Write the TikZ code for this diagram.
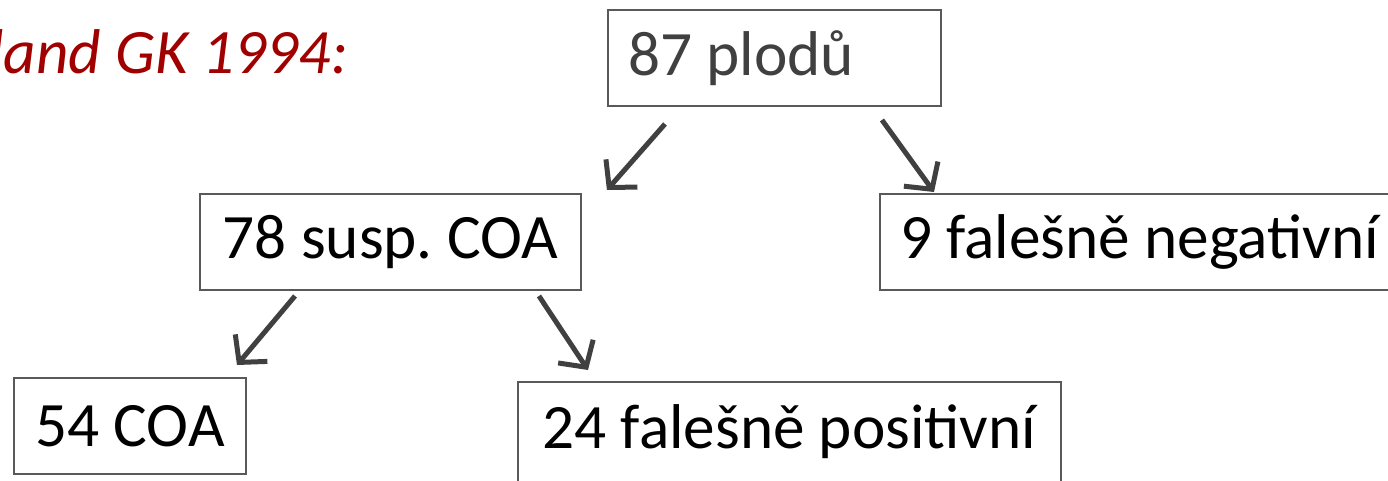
\documentclass[tikz,border=0pt]{standalone}
\usepackage{fontspec}
\setmainfont{Carlito}
\usetikzlibrary{positioning,calc,arrows.meta}

\definecolor{titlered}{RGB}{160,0,0}
\definecolor{darkgray}{RGB}{64,64,64}
\definecolor{framegray}{RGB}{89,89,89}

\begin{document}
\frenchspacing
\begin{tikzpicture}[
      x=0.02cm, y=-0.02cm,
      box/.style={rectangle, draw=framegray, line width=0.04cm, anchor=north west, inner xsep=0.4cm, inner ysep=0pt, minimum height=1.92cm, font=\fontsize{36}{43}\selectfont},
      arr/.style={draw=darkgray, line width=0.1cm, -{Straight Barb[length=0.38cm, width=0.84cm]}}
    ]
    \useasboundingbox (0,0) rectangle (1388,480);
    \clip (0,0) rectangle (1388,480);
    \node[anchor=base west, inner sep=0pt, text=titlered, font=\fontsize{36}{43}\selectfont\itshape] (title) at (-11,73) {land GK 1994:};
    \node[box, text=darkgray] (plody) at (607,9) {\makebox[5.86cm][l]{87 plodů}};
    \node[box, minimum width=7.62cm] (susp) at (199,193) {78 susp. COA};
    \node[box] (neg) at (879,193) {\makebox[10.5cm][l]{9 falešně negativní}};
    \node[box, minimum width=4.64cm] (coa) at (13,377) {54 COA};
    \node[box, minimum width=10.86cm, minimum height=2cm] (pos) at (517,381) {24 falešně positivní};
    \draw[arr] ([shift={(58,17)}]plody.south west) -- ([shift={(25,-3)}]susp.north east);
    \draw[arr] ([shift={(-60,13)}]plody.south east) -- ([shift={(55,-1)}]neg.north west);
    \draw[arr] ([shift={(96,5)}]susp.south west) -- ([shift={(-10,-12)}]coa.north east);
    \draw[arr] ([shift={(-43,5)}]susp.south east) -- ([shift={(71,-11)}]pos.north west);
\end{tikzpicture}
\end{document}
